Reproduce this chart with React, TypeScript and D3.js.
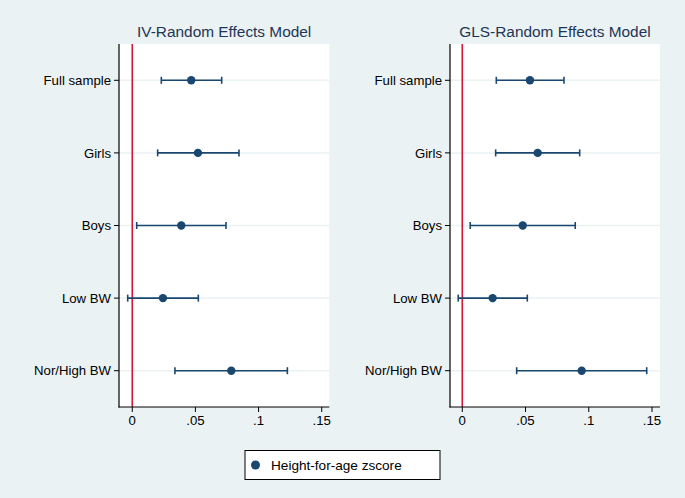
import React from "react";
import * as d3 from "d3";

const categories = ["Full sample", "Girls", "Boys", "Low BW", "Nor/High BW"];
const ivEst = [0.0467, 0.052, 0.0388, 0.0243, 0.0784];
const ivLo = [0.023, 0.0201, 0.0035, -0.0036, 0.0338];
const ivHi = [0.0708, 0.0845, 0.0742, 0.0523, 0.1228];
const glsEst = [0.0535, 0.0596, 0.0478, 0.024, 0.0944];
const glsLo = [0.0269, 0.0264, 0.0063, -0.0032, 0.043];
const glsHi = [0.0804, 0.0928, 0.0893, 0.0514, 0.1458];
const xTicks = [0, 0.05, 0.1, 0.15];
const tickLabels = ["0", ".05", ".1", ".15"];
const titles = ["IV-Random Effects Model", "GLS-Random Effects Model"];
const legendLabel = "Height-for-age zscore";

const W = 685;
const H = 498;
const BG = "#eaf2f3";
const NAVY = "#1a476f";
const RED = "#d6163b";
const FONT = "'Liberation Sans', Arial, Helvetica, sans-serif";

const panels = [
  { title: titles[0], est: ivEst, lo: ivLo, hi: ivHi, domain: [-0.0105, 0.156], range: [119, 329.3] },
  { title: titles[1], est: glsEst, lo: glsLo, hi: glsHi, domain: [-0.0097, 0.1563], range: [450, 660] },
];

const TOP = 44;
const BOTTOM = 407;

function Panel({ p }: { p: any }) {
  const x = d3.scaleLinear().domain(p.domain).range(p.range);
  const y = d3.scalePoint<string>().domain(categories).range([TOP, BOTTOM]).padding(0.5);
  const [x0, x1] = p.range;
  const cap = 3.5;
  return (
    <g>
      <rect x={x0} y={TOP} width={x1 - x0} height={BOTTOM - TOP} fill="#ffffff" />
      {categories.map((c) => (
        <line key={"g" + c} x1={x0} x2={x1} y1={y(c)} y2={y(c)} stroke={BG} strokeWidth={1.5} />
      ))}
      <line x1={x(0)} x2={x(0)} y1={TOP} y2={BOTTOM} stroke={RED} strokeWidth={1.6} />
      {categories.map((c, i) => {
        const yy = y(c)!;
        return (
          <g key={"e" + c}>
            <line x1={x(p.lo[i])} x2={x(p.hi[i])} y1={yy} y2={yy} stroke={NAVY} strokeWidth={1.6} />
            <line x1={x(p.lo[i])} x2={x(p.lo[i])} y1={yy - cap} y2={yy + cap} stroke={NAVY} strokeWidth={1.6} />
            <line x1={x(p.hi[i])} x2={x(p.hi[i])} y1={yy - cap} y2={yy + cap} stroke={NAVY} strokeWidth={1.6} />
            <circle cx={x(p.est[i])} cy={yy} r={4.2} fill={NAVY} />
          </g>
        );
      })}
      <line x1={x0} x2={x0} y1={TOP} y2={BOTTOM + 0.5} stroke="#000" strokeWidth={1.2} />
      <line x1={x0 - 0.5} x2={x1} y1={BOTTOM} y2={BOTTOM} stroke="#000" strokeWidth={1.2} />
      {categories.map((c) => (
        <g key={"t" + c}>
          <line x1={x0 - 5} x2={x0} y1={y(c)} y2={y(c)} stroke="#000" strokeWidth={1} />
          <text x={x0 - 8} y={y(c)! + 4.6} textAnchor="end" fontSize={13.2} fontFamily={FONT} fill="#000">
            {c}
          </text>
        </g>
      ))}
      {xTicks.map((t, i) => (
        <g key={"x" + t}>
          <line x1={x(t)} x2={x(t)} y1={BOTTOM} y2={BOTTOM + 5} stroke="#000" strokeWidth={1} />
          <text x={x(t)} y={BOTTOM + 17.5} textAnchor="middle" fontSize={13.2} fontFamily={FONT} fill="#000">
            {tickLabels[i]}
          </text>
        </g>
      ))}
      <text x={(x0 + x1) / 2} y={37.3} textAnchor="middle" fontSize={15.4} fontFamily={FONT} fill="#1e3556">
        {p.title}
      </text>
    </g>
  );
}

export default function App() {
  return (
    <svg width={W} height={H} style={{ position: "absolute", left: 0, top: 0 }}>
      <rect x={0} y={0} width={W} height={H} fill={BG} />
      {panels.map((p) => (
        <Panel key={p.title} p={p} />
      ))}
      <rect x={245} y={450.5} width={195} height={29} fill="#ffffff" stroke="#000" strokeWidth={1} />
      <circle cx={255.5} cy={465} r={4.5} fill={NAVY} />
      <text x={271} y={470} fontSize={13.6} fontFamily={FONT} fill="#000">
        {legendLabel}
      </text>
    </svg>
  );
}
